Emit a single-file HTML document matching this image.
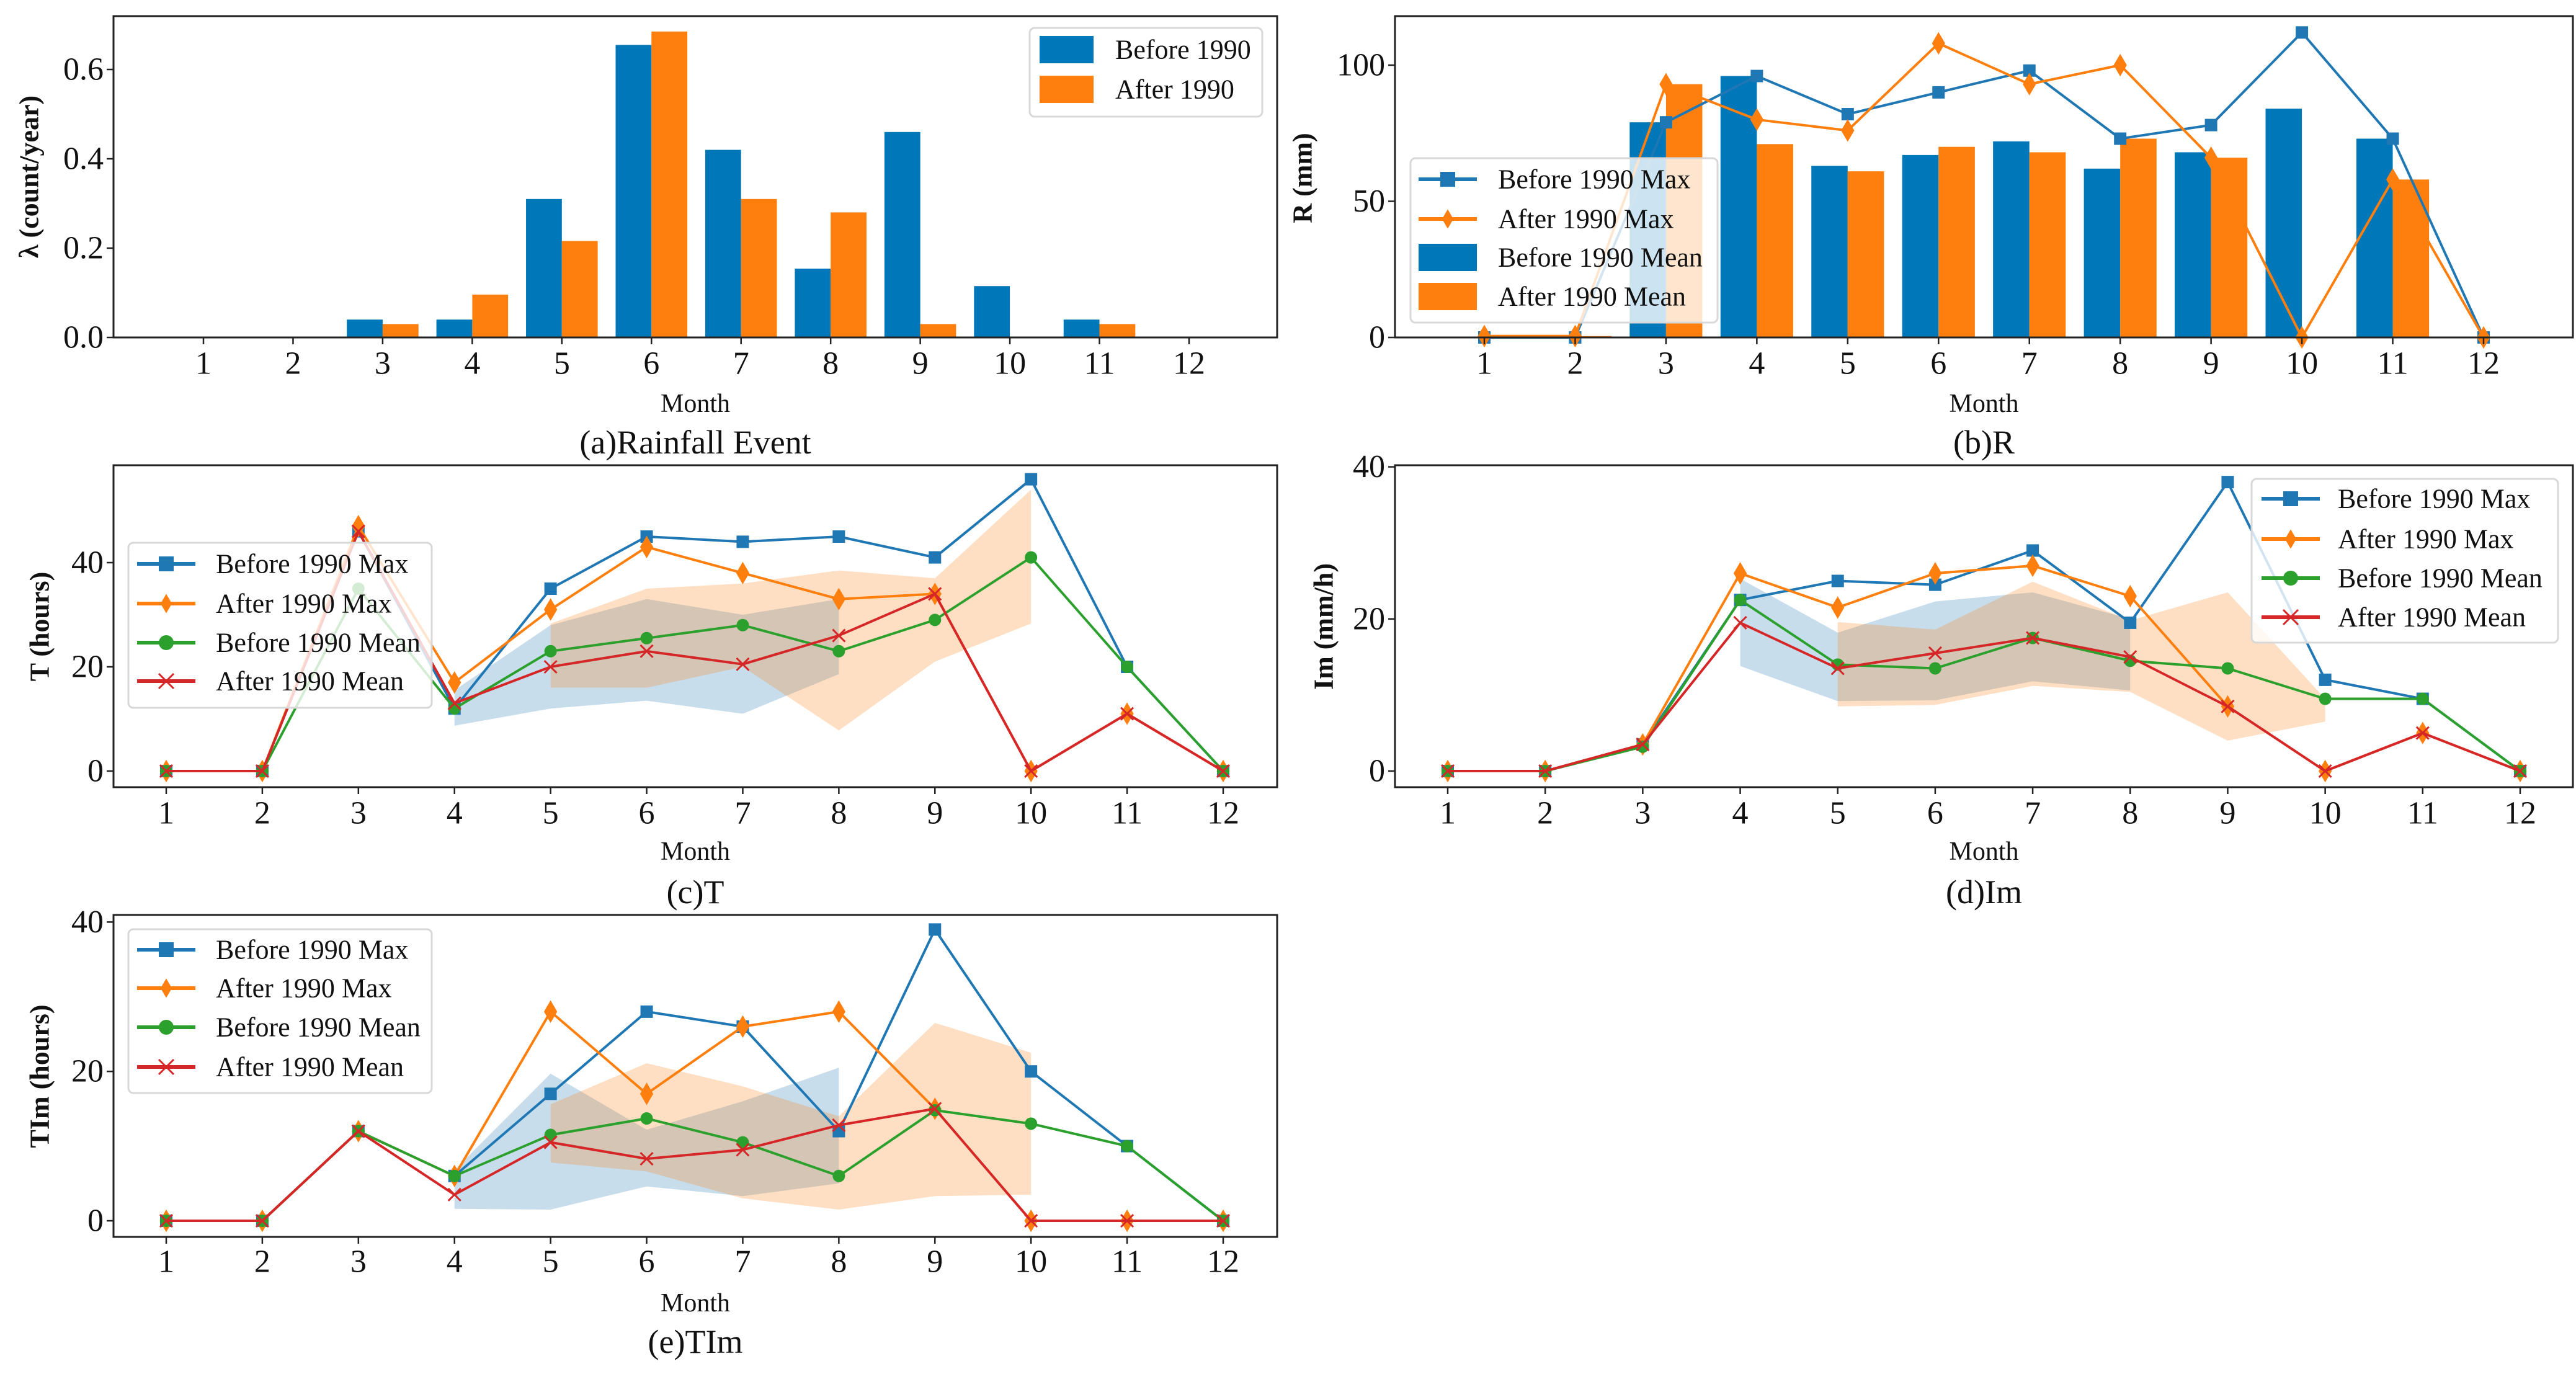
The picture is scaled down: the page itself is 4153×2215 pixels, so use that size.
<!DOCTYPE html>
<html><head><meta charset="utf-8"><style>
html,body{margin:0;padding:0;background:#fff;}
svg{display:block;font-family:"Liberation Serif",serif;}
</style></head><body>
<svg id="fig" width="4153" height="2215" viewBox="0 0 4153 2215" xmlns="http://www.w3.org/2000/svg"></svg>
<script>
const months=[1,2,3,4,5,6,7,8,9,10,11,12];
// (a) rainfall event
const aBefore=[0,0,0.04,0.04,0.31,0.655,0.42,0.154,0.46,0.115,0.04,0];
const aAfter=[0,0,0.03,0.096,0.216,0.685,0.31,0.28,0.03,0,0.03,0];
const aTicks=[0,0.2,0.4,0.6];
const aTickLabels=["0.0","0.2","0.4","0.6"];
// (b) R
const bBeforeMax=[0,0,79,96,82,90,98,73,78,112,73,0];
const bAfterMax=[0.5,0.5,93,80,76,108,93,100,66,0,58,0];
const bBeforeMean=[0,0,79,96,63,67,72,62,68,84,73,0];
const bAfterMean=[0.5,0.5,93,71,61,70,68,73,66,0,58,0];
const bTicks=[0,50,100];
// (c) T
const cBeforeMax=[0,0,46,12,35,45,44,45,41,56,20,0];
const cAfterMax=[0,0,47,17,31,43,38,33,34,0,11,0];
const cBeforeMean=[0,0,35,12,23,25.5,28,23,29,41,20,0];
const cAfterMean=[0,0,46,13,20,23,20.5,26,34,0,11,0];
const cBandBMonths=[4,5,6,7,8];
const cBandBUp=[15.5,28,33,30,33];
const cBandBLo=[8.7,12,13.5,11,18.6];
const cBandAMonths=[5,6,7,8,9,10];
const cBandAUp=[28.3,35,36,38.5,37,54];
const cBandALo=[16,16,20,7.8,21,28.3];
const cTicks=[0,20,40];
// (d) Im
const dBeforeMax=[0,0,3.5,22.5,25,24.5,29,19.5,38,12,9.5,0];
const dAfterMax=[0,0,3.5,26,21.5,26,27,23,8.5,0,5,0];
const dBeforeMean=[0,0,3.2,22.5,14,13.5,17.5,14.5,13.5,9.5,9.5,0];
const dAfterMean=[0,0,3.5,19.5,13.5,15.5,17.5,15,8.5,0,5,0];
const dBandBMonths=[4,5,6,7,8];
const dBandBUp=[25.3,18.2,22.3,23.5,20];
const dBandBLo=[13.8,9.2,9.3,11.8,10.6];
const dBandAMonths=[5,6,7,8,9,10];
const dBandAUp=[19.6,18.6,24.9,19.8,23.5,9.5];
const dBandALo=[8.5,8.7,11.2,10.4,4,6.5];
const dTicks=[0,20,40];
// (e) TIm
const eBeforeMax=[0,0,12,6,17,28,26,12,39,20,10,0];
const eAfterMax=[0,0,12,6,28,17,26,28,15,0,0,0];
const eBeforeMean=[0,0,12,6,11.5,13.7,10.5,6,14.8,13,10,0];
const eAfterMean=[0,0,12,3.5,10.5,8.3,9.5,12.8,15,0,0,0];
const eBandBMonths=[4,5,6,7,8];
const eBandBUp=[6.8,19.7,12.2,16,20.5];
const eBandBLo=[1.6,1.5,4.6,3.3,5];
const eBandAMonths=[5,6,7,8,9,10];
const eBandAUp=[15.6,21.1,18,14,26.5,22.5];
const eBandALo=[7.8,6.6,3,1.5,3.3,3.5];
const eTicks=[0,20,40];

const NS="http://www.w3.org/2000/svg";
const fig=document.getElementById('fig');
const BLUE="#1f77b4",ORANGE="#ff7f0e",GREEN="#2ca02c",RED="#d62728";
function mk(parent,tag,attrs,text){const e=document.createElementNS(NS,tag);for(const k in attrs)e.setAttribute(k,attrs[k]);if(text!==undefined)e.textContent=text;parent.appendChild(e);return e;}

function makeAxes(p){
  const g=mk(fig,'g',{});
  
  
  p.g=g;
  p.sx=m=>p.x1+(m-1)*(p.x12-p.x1)/11;
  p.sy=v=>p.y0-v*p.k;
  return p;
}
function frame(p){
  const g=p.g;
  const r=mk(g,'rect',{x:p.L,y:p.T,width:p.R-p.L,height:p.B-p.T,fill:'none',stroke:'#222','stroke-width':3});
  
  
  months.forEach(m=>{
    const x=p.sx(m);
    const t=mk(g,'line',{x1:x,x2:x,y1:p.B,y2:p.B+11,stroke:'#222','stroke-width':2.5});
    
    
    const tl=mk(g,'text',{x:x,y:p.tickY,'font-size':52,'text-anchor':'middle','dominant-baseline':'central',fill:'#111'},String(m));
    
    
  });
  p.ticks.forEach((v,i)=>{
    const y=p.sy(v);
    const t=mk(g,'line',{x1:p.L-11,x2:p.L,y1:y,y2:y,stroke:'#222','stroke-width':2.5});
    
    
    const tl=mk(g,'text',{x:p.L-16,y:y,'font-size':52,'text-anchor':'end','dominant-baseline':'central',fill:'#111'},p.tickLabels?p.tickLabels[i]:String(v));
    
    
  });
  const cx=(p.L+p.R)/2;
  const ml=mk(g,'text',{x:cx,y:p.monthY,'font-size':42,'text-anchor':'middle','dominant-baseline':'central',fill:'#111'},'Month');
  
  
  const tt=mk(g,'text',{x:cx,y:p.titleY,'font-size':54,'text-anchor':'middle','dominant-baseline':'central',fill:'#111'},p.title);
  
  
  const yl=mk(g,'text',{x:p.ylx,y:p.yly,'font-size':44,'font-weight':'bold','text-anchor':'middle','dominant-baseline':'central',fill:'#111',transform:`rotate(-90 ${p.ylx} ${p.yly})`},p.ylabel);
  
  
}
function band(p,ms,up,lo,color,name){
  let pts=ms.map((m,i)=>p.sx(m)+','+p.sy(up[i]));
  for(let i=ms.length-1;i>=0;i--)pts.push(p.sx(ms[i])+','+p.sy(lo[i]));
  const e=mk(p.g,'polygon',{points:pts.join(' '),fill:color,'fill-opacity':0.25,stroke:'none'});
  
  
}
function marker(g,type,x,y,color,s){
  let e;
  if(type==='s')e=mk(g,'rect',{x:x-s/2,y:y-s/2,width:s,height:s,fill:color});
  else if(type==='d')e=mk(g,'polygon',{points:`${x},${y-s*0.65} ${x+s*0.38},${y} ${x},${y+s*0.65} ${x-s*0.38},${y}`,fill:color});
  else if(type==='o')e=mk(g,'circle',{cx:x,cy:y,r:s/2,fill:color});
  else e=mk(g,'path',{d:`M${x-s/2} ${y-s/2}L${x+s/2} ${y+s/2}M${x-s/2} ${y+s/2}L${x+s/2} ${y-s/2}`,stroke:color,'stroke-width':3,fill:'none'});
  return e;
}
function series(p,vals,color,type,name,lw,ms){
  const pts=vals.map((v,i)=>p.sx(months[i])+','+p.sy(v)).join(' ');
  const l=mk(p.g,'polyline',{points:pts,fill:'none',stroke:color,'stroke-width':lw,'stroke-linejoin':'round'});
  
  
  vals.forEach((v,i)=>{
    const m=marker(p.g,type,p.sx(months[i]),p.sy(v),color,ms);
    
    
  });
}
function bars(p,vals,color,off,name){
  const w=0.4*(p.x12-p.x1)/11;
  vals.forEach((v,i)=>{
    if(v<=0)return;
    const x=p.sx(months[i])+off*w;
    const b=mk(p.g,'rect',{x:x,y:p.sy(v),width:w,height:p.y0-p.sy(v),fill:color});
    
    
  });
}
function legend(p,box,items){
  const lg=mk(p.g,'g',{});
  
  
  const r=mk(lg,'rect',{x:box[0],y:box[1],width:box[2]-box[0],height:box[3]-box[1],rx:8,fill:'#fff','fill-opacity':0.8,stroke:'#d8d8d8','stroke-width':3});
  
  
  items.forEach(it=>{
    const y=it.y;
    if(it.patch){
      const pr=mk(lg,'rect',{x:it.lx,y:y-22,width:it.lw,height:44,fill:it.color});
      
      
    }else{
      const ln=mk(lg,'line',{x1:it.lx,x2:it.lx+it.lw,y1:y,y2:y,stroke:it.color,'stroke-width':6});
      
      
      const mm=marker(lg,it.type,it.lx+it.lw/2,y,it.color,24);
      
      
    }
    const t=mk(lg,'text',{x:it.tx,y:y,'font-size':44,'dominant-baseline':'central',fill:'#111'},it.label);
    
    
  });
}
const labels4=["Before 1990 Max","After 1990 Max","Before 1990 Mean","After 1990 Mean"];
const cols4=[BLUE,ORANGE,GREEN,RED],types4=['s','d','o','x'];
function legend4(p,box,rows,lx,tx){
  legend(p,box,rows.map((y,i)=>({y:y,lx:lx,lw:94,tx:tx,color:cols4[i],type:types4[i],label:labels4[i]})));
}

// Panel a
const pa=makeAxes({name:'panel-a-rainfall-event',L:183,R:2059,T:26,B:544,x1:328,x12:1917,y0:544,k:720,ticks:aTicks,tickLabels:aTickLabels,tickY:586,monthY:651,titleY:713,title:'(a)Rainfall Event',ylabel:'λ (count/year)',ylx:47,yly:285});
bars(pa,aBefore,'#0077b8',-1,'bar-before');
bars(pa,aAfter,ORANGE,0,'bar-after');
frame(pa);
legend(pa,[1660,45,2035,188],[{y:80,patch:true,lx:1676,lw:87,tx:1798,color:'#0077b8',label:'Before 1990'},{y:144,patch:true,lx:1676,lw:87,tx:1798,color:ORANGE,label:'After 1990'}]);

// Panel b
const pb=makeAxes({name:'panel-b-r',L:2249,R:4148,T:26,B:544,x1:2393,x12:4004,y0:544,k:4.39,ticks:bTicks,tickY:586,monthY:651,titleY:713,title:'(b)R',ylabel:'R (mm)',ylx:2100,yly:287});
bars(pb,bBeforeMean,'#0077b8',-1,'bar-before-mean');
bars(pb,bAfterMean,ORANGE,0,'bar-after-mean');
series(pb,bBeforeMax,BLUE,'s','before-max',4,20);
series(pb,bAfterMax,ORANGE,'d','after-max',4,28);
frame(pb);
legend(pb,[2274,255,2769,520],[
 {y:289,lx:2287,lw:94,tx:2415,color:BLUE,type:'s',label:'Before 1990 Max'},
 {y:353,lx:2287,lw:94,tx:2415,color:ORANGE,type:'d',label:'After 1990 Max'},
 {y:415,patch:true,lx:2287,lw:94,tx:2415,color:'#0077b8',label:'Before 1990 Mean'},
 {y:478,patch:true,lx:2287,lw:94,tx:2415,color:ORANGE,label:'After 1990 Mean'}]);

// Panel c
const pc=makeAxes({name:'panel-c-t',L:183,R:2059,T:750,B:1269,x1:268,x12:1972,y0:1243,k:8.4,ticks:cTicks,tickY:1311,monthY:1373,titleY:1438,title:'(c)T',ylabel:'T (hours)',ylx:64,yly:1010});
band(pc,cBandBMonths,cBandBUp,cBandBLo,BLUE,'band-before');
band(pc,cBandAMonths,cBandAUp,cBandALo,ORANGE,'band-after');
series(pc,cBeforeMax,BLUE,'s','before-max',4,20);
series(pc,cAfterMax,ORANGE,'d','after-max',4,28);
series(pc,cBeforeMean,GREEN,'o','before-mean',4,20);
series(pc,cAfterMean,RED,'x','after-mean',4,20);
frame(pc);
legend4(pc,[207,875,696,1141],[909,973,1036,1098],221,348);

// Panel d
const pd=makeAxes({name:'panel-d-im',L:2249,R:4148,T:750,B:1269,x1:2334,x12:4063,y0:1243,k:12.26,ticks:dTicks,tickY:1311,monthY:1373,titleY:1438,title:'(d)Im',ylabel:'Im (mm/h)',ylx:2134,yly:1010});
band(pd,dBandBMonths,dBandBUp,dBandBLo,BLUE,'band-before');
band(pd,dBandAMonths,dBandAUp,dBandALo,ORANGE,'band-after');
series(pd,dBeforeMax,BLUE,'s','before-max',4,20);
series(pd,dAfterMax,ORANGE,'d','after-max',4,28);
series(pd,dBeforeMean,GREEN,'o','before-mean',4,20);
series(pd,dAfterMean,RED,'x','after-mean',4,20);
frame(pd);
legend4(pd,[3630,772,4124,1036],[804,869,932,995],3646,3769);

// Panel e
const pe=makeAxes({name:'panel-e-tim',L:183,R:2059,T:1475,B:1994,x1:268,x12:1972,y0:1968,k:12.04,ticks:eTicks,tickY:2034,monthY:2101,titleY:2163,title:'(e)TIm',ylabel:'TIm (hours)',ylx:64,yly:1735});
band(pe,eBandBMonths,eBandBUp,eBandBLo,BLUE,'band-before');
band(pe,eBandAMonths,eBandAUp,eBandALo,ORANGE,'band-after');
series(pe,eBeforeMax,BLUE,'s','before-max',4,20);
series(pe,eAfterMax,ORANGE,'d','after-max',4,28);
series(pe,eBeforeMean,GREEN,'o','before-mean',4,20);
series(pe,eAfterMean,RED,'x','after-mean',4,20);
frame(pe);
legend4(pe,[207,1498,696,1762],[1531,1593,1656,1720],221,348);
</script>
</body></html>
